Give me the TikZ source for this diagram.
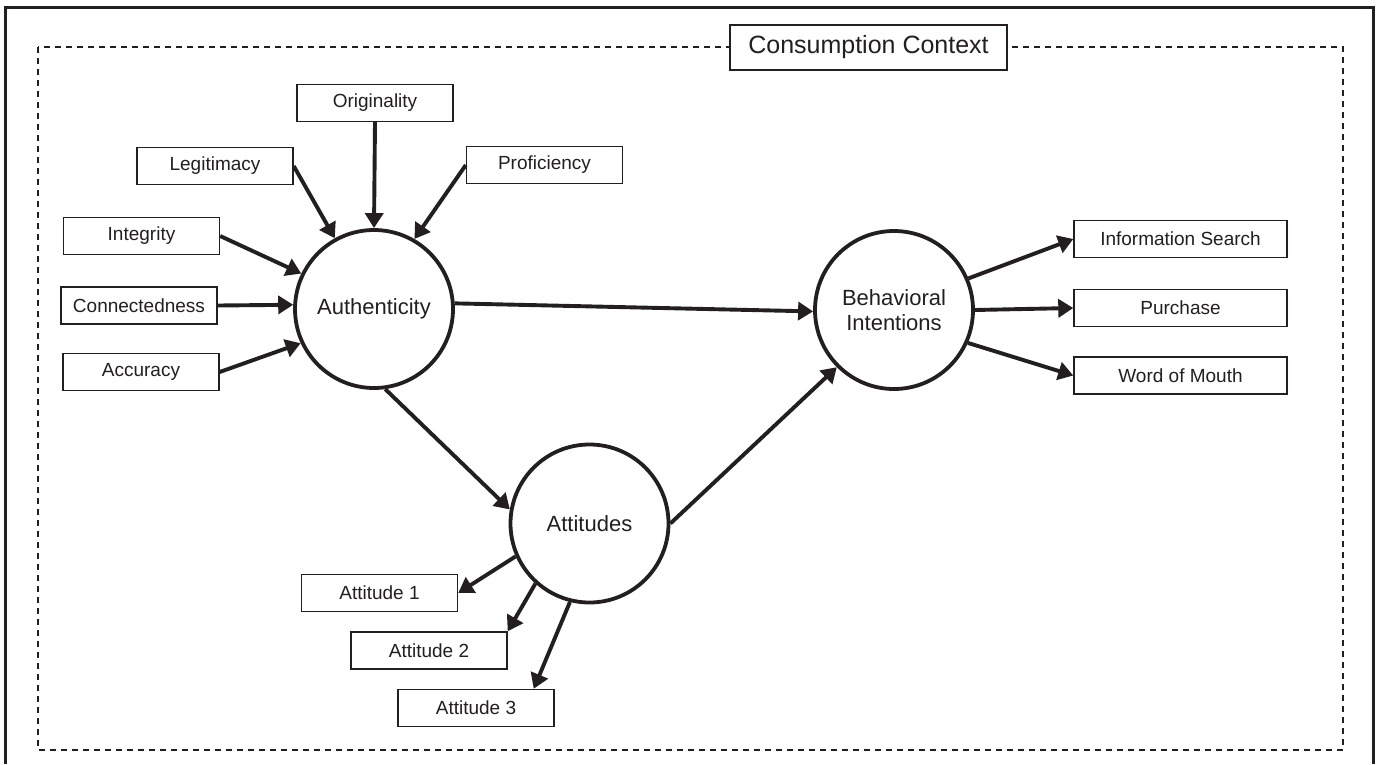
\documentclass[tikz,border=0pt]{standalone}
\usepackage{fontspec}
\setmainfont{Liberation Sans}
\usetikzlibrary{arrows.meta}
\definecolor{ink}{RGB}{35,31,32}
\begin{document}
\begin{tikzpicture}[x=1pt,y=-1pt,
  every node/.style={text=ink},
  boxnode/.style={draw=ink,line width=1.4pt,fill=white,minimum width=156pt,minimum height=37pt,inner sep=0pt,font=\fontsize{19}{22}\selectfont},
  widebox/.style={boxnode,minimum width=213pt},
  construct/.style={circle,draw=ink,line width=3.8pt,fill=white,minimum size=158pt,inner sep=0pt,font=\fontsize{22}{25}\selectfont,align=center},
  link/.style={draw=ink,line width=3.9pt,-{Triangle[length=15pt,width=18pt]}},
  frame/.style={draw=ink,line width=3pt},
  context/.style={draw=ink,line width=1.8pt,dash pattern=on 6pt off 5pt}
]
\useasboundingbox (0,0) rectangle (1378,764);
% outer frame and context region
\draw[frame] (5,764) -- (5,7) -- (1373,7) -- (1373,764);
\draw[context] (38,47) rectangle (1343,750);
\node[boxnode,minimum width=277pt,minimum height=45pt,font=\fontsize{25}{28}\selectfont] (ctx) at (868.5,47.5) {Consumption Context};

% constructs
\node[construct] (auth) at (374,309) {Authenticity};
\node[construct] (beh) at (894,310) {Behavioral\\Intentions};
\node[construct] (att) at (589.5,523.5) {Attitudes};

% antecedents
\node[boxnode] (orig) at (375,103) {Originality};
\node[boxnode] (leg) at (215,166) {Legitimacy};
\node[boxnode] (prof) at (544.5,165) {Proficiency};
\node[boxnode] (integ) at (141.5,236) {Integrity};
\node[boxnode] (conn) at (139,305.5) {Connectedness};
\node[boxnode] (acc) at (141,372) {Accuracy};

% attitude indicators
\node[boxnode] (att1) at (379.5,593) {Attitude 1};
\node[boxnode] (att2) at (429,650.5) {Attitude 2};
\node[boxnode] (att3) at (476,708) {Attitude 3};

% intentions
\node[widebox] (info) at (1180.5,239) {Information Search};
\node[widebox] (purch) at (1180.5,308) {Purchase};
\node[widebox] (wom) at (1180.5,375.5) {Word of Mouth};

% connectors
\draw[link] (orig.south) -- (auth.north);
\draw[link] (leg.east) -- (auth.119);
\draw[link] (prof.west) -- (auth.60);
\draw[link] (integ.east) -- (auth.154);
\draw[link] (conn.east) -- (auth.177);
\draw[link] (acc.east) -- (auth.205);
\draw[link] (auth.4) -- (beh.181);
\draw[link] (auth.278) -- (att.170);
\draw[link] (att.0) -- (beh.225);
\draw[link] (att.204) -- (att1.east);
\draw[link] (att.228) -- (att2.north east);
\draw[link] (att.256) -- ([xshift=-21pt]att3.north east);
\draw[link] (beh.23) -- (info.west);
\draw[link] (beh.0) -- (purch.west);
\draw[link] (beh.-24) -- (wom.west);
\end{tikzpicture}
\end{document}
